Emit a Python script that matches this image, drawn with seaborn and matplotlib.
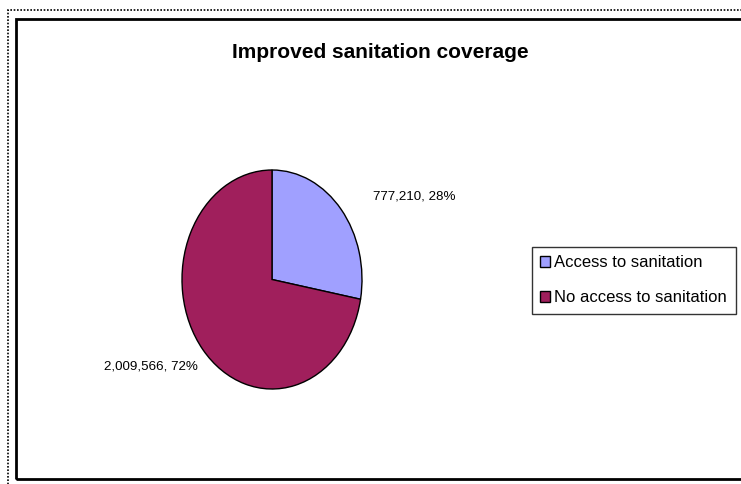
import matplotlib
matplotlib.use("Agg")
import matplotlib.pyplot as plt
import seaborn as sns
import numpy as np
from matplotlib.patches import Rectangle

categories = ["Access to sanitation", "No access to sanitation"]
values = [777210, 2009566]
colors = ["#A0A0FF", "#A01F5C"]
title = "Improved sanitation coverage"

sns.set_theme(style="white")
plt.rcParams['font.family'] = ['Liberation Sans', 'DejaVu Sans']
plt.rcParams['text.color'] = 'black'

W, H = 741, 484
fig = plt.figure(figsize=(W / 100, H / 100), dpi=100)
fig.patch.set_facecolor("white")

# outer dotted border and inner solid frame
fig.add_artist(Rectangle((8 / W, -10 / H), 760 / W, (474 + 10) / H, transform=fig.transFigure,
                         fill=False, ec="black", lw=1.2, ls=(0, (1, 1))))
fig.add_artist(Rectangle((16 / W, 1 - 479 / H), 740 / W, 460 / H, transform=fig.transFigure,
                         fill=False, ec="black", lw=2.0))

fig.text(380 / W, 1 - 52 / H, title, ha="center", va="center",
         fontsize=15, fontweight="bold", color="black")

# pie axes (elliptical pie)
cx, cy, rx, ry = 272, 279.5, 90, 109.5
ax = fig.add_axes([(cx - rx) / W, 1 - (cy + ry) / H, 2 * rx / W, 2 * ry / H])
wedges, _ = ax.pie(values, colors=colors, startangle=90, counterclock=False,
                   wedgeprops=dict(edgecolor="black", linewidth=1.0))
ax.set_aspect("auto")
ax.set_xlim(-1, 1)
ax.set_ylim(-1, 1)
ax.axis("off")

total = sum(values)
labels = [f"{v:,}, {round(100 * v / total)}%" for v in values]
ax.text(1.12, 0.76, labels[0], ha="left", va="center", fontsize=9.6, color="black", clip_on=False)
ax.text(-0.82, -0.79, labels[1], ha="right", va="center", fontsize=9.6, color="black", clip_on=False)

leg = fig.legend(wedges, categories, loc="upper left",
                 bbox_to_anchor=(532 / W, 1 - 247 / H), fontsize=12,
                 frameon=True, fancybox=False, edgecolor="black",
                 handlelength=0.6, handleheight=0.6, handletextpad=0.25,
                 borderpad=0.5, labelspacing=1.2, borderaxespad=0)
leg.get_frame().set_linewidth(1.0)
for t in leg.get_texts():
    t.set_color("black")

fig.savefig("out.png", dpi=100)
